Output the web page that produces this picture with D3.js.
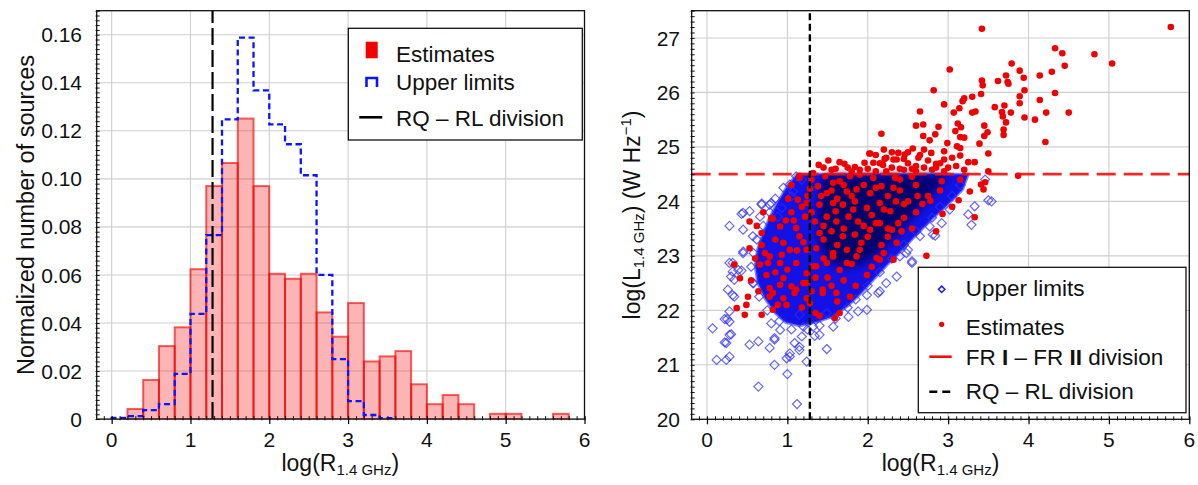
<!DOCTYPE html>
<html><head><meta charset="utf-8">
<script src="https://cdn.jsdelivr.net/npm/d3@7"></script>
<style>
body{margin:0;background:#fff}
svg{display:block}
text{font-family:"Liberation Sans",Arial,sans-serif;fill:#111}
</style>
</head><body>
<svg id="c" width="1198" height="485"></svg>
<script>
// ---------- DATA ----------
// Left panel: histogram bin edges of log(R_1.4GHz)
const binEdges = [0,0.2,0.4,0.6,0.8,1.0,1.2,1.4,1.6,1.8,2.0,2.2,2.4,2.6,2.8,3.0,3.2,3.4,3.6,3.8,4.0,4.2,4.4,4.6,4.8,5.0,5.2,5.4,5.6,5.8];
// Normalized counts, estimates (filled red bars)
const histEstimates = [0,0.0042,0.0163,0.0304,0.0382,0.0624,0.097,0.1066,0.1251,0.097,0.0605,0.0584,0.0605,0.0444,0.0343,0.0483,0.024,0.0261,0.0283,0.0145,0.0062,0.010,0.0062,0,0.0022,0.0022,0,0,0.0022];
// Normalized counts, upper limits (blue dashed step)
const histUpperLimits = [0.0005,0.0012,0.0037,0.0062,0.0188,0.0438,0.0766,0.1248,0.1588,0.1368,0.1227,0.1144,0.1015,0.060,0.025,0.0075,0.0017,0.0004];
const rqRlDivision = 1.28;      // log R
const frDivision = 24.5;        // log L
// tick labels
const xTicks = [0,1,2,3,4,5,6];
const xTickLabels = ["0","1","2","3","4","5","6"];
const yTicksL = [0,0.02,0.04,0.06,0.08,0.10,0.12,0.14,0.16];
const yTickLabelsL = ["0","0.02","0.04","0.06","0.08","0.10","0.12","0.14","0.16"];
const yTicksR = [20,21,22,23,24,25,26,27];
const yTickLabelsR = ["20","21","22","23","24","25","26","27"];

// Right panel: Estimates (red dots) [log R, log L]
const estimatePts = [
[3.42,27.17],[5.77,27.2],[4.33,26.81],[4.42,26.72],[4.82,26.70],[5.04,26.53],[4.45,26.49],[3.79,26.53],[3.02,26.42],[3.89,26.40],
[3.94,26.27],[4.29,26.38],[4.14,26.31],[3.72,26.31],[3.74,26.19],[3.75,26.16],[3.62,26.21],[3.42,26.22],[3.43,26.13],[2.82,26.04],
[3.95,26.04],[4.33,25.99],[3.89,25.93],[4.14,25.86],[3.89,25.80],[3.41,25.97],[3.30,25.92],[3.20,25.89],[3.18,25.84],[2.95,25.78],
[3.14,25.71],[3.07,25.63],[3.30,25.63],[3.34,25.65],[3.58,25.73],[3.70,25.76],[3.67,25.64],[3.68,25.56],[3.78,25.63],[3.72,25.45],
[3.95,25.54],[4.08,25.50],[4.22,25.63],[4.50,25.63],[2.65,25.65],[2.60,25.39],[2.69,25.41],[2.88,25.37],[3.12,25.43],[3.16,25.36],
[3.09,25.29],[3.45,25.39],[3.49,25.27],[3.45,25.20],[3.69,25.32],[3.69,25.22],[2.84,25.23],[2.69,25.20],[3.15,25.18],[3.20,25.17],
[2.99,25.07],[3.11,25.01],[3.15,24.98],[3.39,25.06],[4.21,25.09],[2.77,25.12],[2.56,24.97],[3.50,24.88],[3.15,24.84],[2.95,24.92],
[2.79,24.89],[3.25,24.72],[3.33,24.72],[2.95,24.77],[3.87,24.47],[2.85,24.69],[2.17,25.24],[2.38,24.89],[2.46,24.86],[2.63,24.80],
[3.50,24.55],
[2.02,24.88],[1.39,24.67],[1.51,24.75],[1.71,24.69],[1.84,24.63],[1.96,24.71],[2.07,24.71],[2.21,24.78],[2.32,24.77],[2.03,24.88],
[2.23,24.80],[2.19,24.67],[2.36,24.77],[1.32,24.52],[2.23,24.55],[1.6,24.6],[1.8,24.55],[2.0,24.6],[2.1,24.55],[2.45,24.58],
[2.55,24.6],[2.7,24.62],[2.8,24.58],[3.0,24.62],[2.9,24.7],[2.75,24.75],[2.65,24.85],[2.5,24.9],[2.2,24.95],[3.05,24.8],
[1.55,24.58],[2.4,24.6],[2.5,24.7],[2.6,24.65],
[1.45,24.62],[1.65,24.72],[1.75,24.62],[1.9,24.58],[2.15,24.7],[2.3,24.62],[2.6,24.55],[2.85,24.62],[2.95,24.55],[3.1,24.65],
[3.2,24.58],[2.45,24.78],[2.3,24.9],[2.7,24.95],[2.1,24.85],
[1.15,24.47],[1.13,24.03],[1.01,24.05],[0.82,23.68],[0.53,23.63],[0.68,23.42],
[1.15,24.43],[1.28,24.23],[1.47,24.46],[1.65,24.37],[1.78,24.46],[1.90,24.49],[2.07,24.43],[2.34,24.43],[1.57,24.34],[1.38,24.28],
[1.49,24.15],[1.74,24.18],[1.86,24.22],[2.03,24.15],[2.17,24.28],[2.32,24.25],[1.24,23.97],[1.40,23.94],[1.57,23.97],[1.69,23.94],
[1.84,24.0],[1.99,23.88],[2.15,23.97],[2.28,23.82],[1.22,23.72],[1.34,23.63],[1.49,23.72],[1.61,23.63],[1.76,23.72],[1.88,23.63],
[2.03,23.48],[2.15,23.60],[2.30,23.48],[0.91,23.54],[1.11,23.51],[1.15,23.36],[1.40,23.42],[1.55,23.45],[1.69,23.36],[1.84,23.39],
[1.92,23.24],[2.17,23.20],[0.95,23.24],[1.03,23.11],[1.24,23.11],[1.36,23.14],[1.57,23.05],[1.74,23.11],[1.86,22.99],[2.11,22.96],
[0.78,22.99],[0.66,22.84],[0.91,22.87],[1.11,22.87],[1.32,22.81],[1.49,22.87],[1.65,22.74],[0.53,23.14],[0.80,23.69],[0.74,22.65],
[0.95,22.59],[1.05,22.44],[1.24,22.50],[1.44,22.38],[1.61,22.32],[0.51,22.25],[0.34,22.84],[0.41,22.59],[0.82,22.32],
[0.37,22.04],[0.47,21.92],[0.68,21.92],[0.78,22.25],[0.82,22.01],[0.99,22.10],[1.09,22.32],[1.28,22.13],[1.44,22.32],[1.40,21.90],
[1.59,21.86],[1.65,21.95],[0.64,22.35],[0.91,22.47],[1.20,22.50],
[0.49,22.10],[0.68,23.20],[0.78,22.41],[0.76,22.87],[0.93,23.02],[0.95,22.22],[1.78,22.25],[1.62,22.16],[1.11,22.38],[1.24,22.22],
[1.99,22.65],[2.15,22.93],[2.36,23.24],[2.32,22.93],[1.90,23.11],[1.24,22.68],[1.36,22.81],[1.57,22.99],[1.74,22.87],
[3.27,24.18],[3.13,24.02],[3.33,23.71],[2.93,23.77],[2.73,23.0],[3.46,24.35],[3.41,24.31],[3.44,24.22],[2.78,24.01],[3.15,24.40],
[2.92,24.37],[2.6,24.3],[2.75,24.1],[2.5,24.0],[2.9,24.2],[3.05,23.9],[2.45,23.7],[2.6,23.8],[2.85,23.45],[2.4,24.4],[2.55,24.45],
[1.3,24.4],[1.42,24.1],[1.55,24.2],[1.62,24.05],[1.7,24.3],[1.8,24.1],[1.95,24.3],[2.1,24.25],[2.25,24.1],[2.4,24.2],
[2.45,23.95],[2.2,23.85],[2.05,23.75],[1.95,23.55],[1.7,23.5],[1.45,23.55],[1.3,23.8],[1.18,23.9],[1.05,23.8],[0.98,23.65],
[1.2,23.25],[1.45,23.3],[1.62,23.2],[2.0,23.35],[2.25,23.35],[2.42,23.45],[2.2,23.05],[1.8,22.85],[1.5,22.6],[1.7,22.55],
[1.85,22.45],[1.35,22.6],[1.0,22.75],[0.85,22.7],[0.72,23.05],[0.85,23.3],[1.08,23.65],[0.62,23.55],[0.7,23.8],[1.6,23.82],
[1.82,23.85],[2.35,24.0],[2.62,24.1],[2.68,23.95],[2.38,23.6],[2.55,23.5],[2.1,23.6],[1.25,24.1],[1.05,24.3],[1.12,23.1],
[1.45,22.95],[1.3,22.35],[1.55,22.45],[0.6,22.95],[0.55,22.55],[0.88,22.1],[1.18,22.05],[1.35,21.95],[2.05,22.8],[2.25,23.5]
];
// Right panel: Upper limits, individually visible diamonds [log R, log L]
const upperLimitPts = [
[0.07,21.67],[0.12,21.09],[0.24,21.09],[0.28,21.15],[0.24,21.40],[0.30,21.56],[0.22,21.84],[0.28,21.79],[0.28,21.98],[0.34,22.25],
[0.26,22.38],[0.34,22.56],[0.28,22.87],[0.32,22.71],[0.43,22.73],[0.45,23.05],[0.53,21.37],[0.64,21.43],[0.64,20.60],[0.84,21.0],
[0.99,21.12],[1.0,20.83],[1.12,20.28],[1.24,21.06],[1.03,21.21],[0.84,21.49],[0.78,21.31],[1.09,21.40],[1.15,21.33],[0.91,21.64],
[0.80,21.76],[1.49,21.29],[1.34,21.53],[1.18,21.52],[1.32,21.70],[1.20,21.70],[1.57,21.70],[1.76,21.88],[1.99,22.01],[2.15,22.35],
[2.23,22.50],[2.36,22.62],[2.55,22.90],[2.48,23.05],[1.15,21.92],[1.49,21.95],[1.03,21.15],[1.15,21.27],[0.84,21.46],[0.22,21.41],
[0.28,21.55],[0.25,21.84],[1.88,21.98],[1.99,22.28],[2.13,22.32],[1.40,21.55],
[0.28,23.55],[0.43,23.77],[0.53,23.82],[0.68,23.94],[0.78,23.94],[0.66,23.72],[0.45,23.48],[0.32,22.87],[0.30,22.62],[0.45,23.08],
[0.57,23.36],[0.93,23.88],[1.05,24.09],[1.11,24.46],[1.03,24.31],[0.88,23.72],[0.39,22.74],[0.57,22.50],[0.32,22.28],[0.45,23.79],
[0.68,23.96],[0.80,23.97],[1.07,24.18],[1.18,24.40],
[3.46,24.4],[3.54,24.0],[3.5,24.02],[3.33,23.91],[3.29,23.57],[3.25,23.76],[3.02,23.85],[2.77,23.54],[2.92,23.6],[2.81,23.39],
[2.65,23.36],[2.50,23.11],[2.55,22.87],[2.40,22.99],[2.84,23.37],
[3.15,24.3],[3.05,24.1],[2.9,23.9],[2.8,23.7],[2.6,23.45],[2.45,23.2],[2.3,22.95],[2.15,22.7],[2.0,22.45],[1.85,22.2],
[1.75,22.05],[0.95,24.25],[0.85,24.05],[0.78,23.8],[0.7,23.55],[0.62,23.3],[0.58,23.05],[0.55,22.8],[0.58,22.5],[0.65,22.25],
[0.75,22.0],[0.9,21.8],[1.05,21.65],[1.25,21.65],[1.4,21.72],[1.6,21.85]
];
// Outline of the saturated (overlapping) upper-limit cloud
const upperLimitCloud = [[1.12,24.5],[3.25,24.5],[3.18,24.22],[2.98,23.92],[2.78,23.65],[2.58,23.35],[2.42,23.1],[2.25,22.85],[2.08,22.58],[1.92,22.32],[1.75,22.08],[1.55,21.88],[1.35,21.78],[1.15,21.72],[0.98,21.78],[0.85,21.95],[0.72,22.22],[0.63,22.52],[0.6,22.82],[0.63,23.12],[0.7,23.42],[0.78,23.7],[0.88,23.98],[1.0,24.28]];
const upperLimitCore = [[1.45,24.48],[3.0,24.48],[2.8,24.12],[2.55,23.7],[2.3,23.3],[2.05,22.95],[1.8,22.78],[1.55,22.85],[1.4,23.2],[1.38,23.9]];

// ---------- SETUP ----------
const svg = d3.select("#c");
const defs = svg.append("defs");
defs.append("filter").attr("id","blur").attr("x","-20%").attr("y","-20%").attr("width","140%").attr("height","140%")
  .append("feGaussianBlur").attr("stdDeviation",5);

const xL = d3.scaleLinear([-0.19,6],[96.7,584.5]);
const yL = d3.scaleLinear([0,0.17],[419.1,10.7]);
const xR = d3.scaleLinear([-0.19,6],[691.7,1189.3]);
const yR = d3.scaleLinear([20,27.5],[419.3,10.7]);

function clip(id,x,y){
  defs.append("clipPath").attr("id",id).append("rect")
    .attr("x",x.range()[0]).attr("y",y.range()[1])
    .attr("width",x.range()[1]-x.range()[0]).attr("height",y.range()[0]-y.range()[1]);
}
clip("clipL",xL,yL); clip("clipR",xR,yR);

function grid(x,y,xs,ys){
  const g = svg.append("g").attr("stroke","#cfcfcf").attr("stroke-width",1.1);
  xs.forEach(v=>g.append("line").attr("x1",x(v)).attr("x2",x(v)).attr("y1",y.range()[0]).attr("y2",y.range()[1]));
  ys.forEach(v=>g.append("line").attr("y1",y(v)).attr("y2",y(v)).attr("x1",x.range()[0]).attr("x2",x.range()[1]));
}

function frame(x,y,xMinor,yMinor){
  const x0=x.range()[0], x1=x.range()[1], y0=y.range()[0], y1=y.range()[1];
  const gbm = svg.append("g").attr("transform",`translate(0,${y0})`)
    .call(d3.axisBottom(x).tickValues(xMinor).tickSize(-3).tickFormat(""));
  gbm.select(".domain").remove();
  gbm.selectAll("line").attr("y1",1.2).attr("stroke","#111").attr("stroke-width",1);
  const glm = svg.append("g").attr("transform",`translate(${x0},0)`)
    .call(d3.axisLeft(y).tickValues(yMinor).tickSize(-3).tickFormat(""));
  glm.select(".domain").remove();
  glm.selectAll("line").attr("x1",-1.2).attr("stroke","#111").attr("stroke-width",1);
  const gb = svg.append("g").attr("transform",`translate(0,${y0})`)
    .call(d3.axisBottom(x).tickValues(xTicks).tickSize(5).tickFormat(""));
  gb.select(".domain").remove();
  gb.selectAll("line").attr("y1",-2.5).attr("stroke","#111").attr("stroke-width",1.3);
  svg.append("rect").attr("x",x0).attr("y",y1).attr("width",x1-x0).attr("height",y0-y1)
    .attr("fill","none").attr("stroke","#111").attr("stroke-width",1.3);
}

function xTickText(x,y){
  const g = svg.append("g").attr("font-size",21).attr("text-anchor","middle");
  xTicks.forEach((v,i)=>g.append("text").attr("x",x(v)).attr("y",447).text(xTickLabels[i]));
}

// ---------- LEFT PANEL ----------
grid(xL,yL,xTicks,yTicksL);
const gL = svg.append("g").attr("clip-path","url(#clipL)");
histEstimates.forEach((v,i)=>{
  if(v<=0) return;
  gL.append("rect").attr("x",xL(binEdges[i])).attr("width",xL(binEdges[i+1])-xL(binEdges[i]))
    .attr("y",yL(v)).attr("height",yL(0)-yL(v))
    .attr("fill","rgba(244,0,0,0.29)").attr("stroke","rgba(240,0,0,0.62)").attr("stroke-width",2);
});
const stepPts = [[binEdges[0],0]];
histUpperLimits.forEach((v,i)=>{ stepPts.push([binEdges[i],v]); stepPts.push([binEdges[i+1],v]); });
stepPts.push([binEdges[histUpperLimits.length],0]);
gL.append("path").attr("d",d3.line().x(d=>xL(d[0])).y(d=>yL(d[1]))(stepPts))
  .attr("fill","none").attr("stroke","#0a14ff").attr("stroke-width",2.3).attr("stroke-dasharray","6,3.6");
gL.append("line").attr("x1",xL(rqRlDivision)).attr("x2",xL(rqRlDivision)).attr("y1",yL(0)).attr("y2",yL(0.17))
  .attr("stroke","#000").attr("stroke-width",2.2).attr("stroke-dasharray","17,5");

const xMinorL = d3.range(-1,61).map(i=>i/10).filter(v=>v>=-0.19&&v<=6);
const yMinorL = d3.range(0,86).map(i=>i*0.002);
frame(xL,yL,xMinorL,yMinorL);
xTickText(xL,yL);
const gyl = svg.append("g").attr("font-size",21).attr("text-anchor","end");
yTicksL.forEach((v,i)=>gyl.append("text").attr("x",82).attr("y",yL(v)).attr("dy","0.36em").text(yTickLabelsL[i]));

svg.append("text").attr("transform","translate(34,215) rotate(-90)").attr("text-anchor","middle")
  .attr("font-size",23.5).text("Normalized number of sources");
const xlabL = svg.append("text").attr("x",340.3).attr("y",471).attr("text-anchor","middle").attr("font-size",23);
xlabL.append("tspan").text("log(R");
xlabL.append("tspan").attr("font-size",15).attr("dy",4).text("1.4 GHz");
xlabL.append("tspan").attr("dy",-4).text(")");

const lgL = svg.append("g");
lgL.append("rect").attr("x",348.3).attr("y",28.3).attr("width",234).attr("height",111.7)
  .attr("fill","#fff").attr("stroke","#111").attr("stroke-width",1.3);
lgL.append("rect").attr("x",365.7).attr("y",41.7).attr("width",12).attr("height",16.6).attr("fill","#f20000");
lgL.append("path").attr("d","M366.5,87 L366.5,78 L377,78 L377,87").attr("fill","none").attr("stroke","#0a14ff").attr("stroke-width",2.6);
lgL.append("line").attr("x1",359.3).attr("x2",382.3).attr("y1",117.3).attr("y2",117.3).attr("stroke","#000").attr("stroke-width",2.6);
const lgLt = lgL.append("g").attr("font-size",22.5);
lgLt.append("text").attr("x",396).attr("y",61.5).text("Estimates");
lgLt.append("text").attr("x",396).attr("y",89.5).text("Upper limits");
lgLt.append("text").attr("x",396).attr("y",126).text("RQ \u2013 RL division");

// ---------- RIGHT PANEL ----------
grid(xR,yR,xTicks,yTicksR);
const gR = svg.append("g").attr("clip-path","url(#clipR)");
const poly = d3.line().x(d=>xR(d[0])).y(d=>yR(d[1])).curve(d3.curveLinearClosed);
gR.append("path").attr("d",poly(upperLimitCloud)).attr("fill","#1212e6").attr("stroke","#2a2aff").attr("stroke-width",3).attr("stroke-opacity",0.6);
gR.append("path").attr("d",poly(upperLimitCore)).attr("fill","#00006e").attr("filter","url(#blur)");
const diamond = d3.symbol().type(d3.symbolDiamond2).size(52);
gR.append("g").selectAll("path").data(upperLimitPts).join("path")
  .attr("transform",d=>`translate(${xR(d[0])},${yR(d[1])})`).attr("d",diamond)
  .attr("fill","none").attr("stroke","#2d2dff").attr("stroke-opacity",0.72).attr("stroke-width",1.2);
gR.append("g").selectAll("circle").data(estimatePts).join("circle")
  .attr("cx",d=>xR(d[0])).attr("cy",d=>yR(d[1])).attr("r",3.3).attr("fill","#f00000");
gR.append("line").attr("x1",xR(-0.19)).attr("x2",xR(6)).attr("y1",yR(frDivision)).attr("y2",yR(frDivision))
  .attr("stroke","#f01010").attr("stroke-width",2.6).attr("stroke-dasharray","19,8").attr("stroke-opacity",0.9);
gR.append("line").attr("x1",xR(rqRlDivision)).attr("x2",xR(rqRlDivision)).attr("y1",yR(20)).attr("y2",yR(27.5))
  .attr("stroke","#000").attr("stroke-width",2.4).attr("stroke-dasharray","7,3.5");

const xMinorR = xMinorL;
const yMinorR = d3.range(0,76).map(i=>20+i/10);
frame(xR,yR,xMinorR,yMinorR);
xTickText(xR,yR);
const gyr = svg.append("g").attr("font-size",21).attr("text-anchor","end");
yTicksR.forEach((v,i)=>gyr.append("text").attr("x",680).attr("y",yR(v)).attr("dy","0.36em").text(yTickLabelsR[i]));

const ylabR = svg.append("text").attr("transform","translate(640,215) rotate(-90)").attr("text-anchor","middle").attr("font-size",23);
ylabR.append("tspan").text("log(L");
ylabR.append("tspan").attr("font-size",15).attr("dy",4).text("1.4 GHz");
ylabR.append("tspan").attr("dy",-4).text(") (W Hz");
ylabR.append("tspan").attr("font-size",15).attr("dy",-9).text("\u22121");
ylabR.append("tspan").attr("dy",9).text(")");
const xlabR = svg.append("text").attr("x",940.5).attr("y",471).attr("text-anchor","middle").attr("font-size",23);
xlabR.append("tspan").text("log(R");
xlabR.append("tspan").attr("font-size",15).attr("dy",4).text("1.4 GHz");
xlabR.append("tspan").attr("dy",-4).text(")");

const lgR = svg.append("g");
lgR.append("rect").attr("x",918.3).attr("y",267.3).attr("width",267.7).attr("height",145.4)
  .attr("fill","#fff").attr("stroke","#111").attr("stroke-width",1.3);
lgR.append("path").attr("transform","translate(941.7,289.3)").attr("d",d3.symbol().type(d3.symbolDiamond2).size(26))
  .attr("fill","none").attr("stroke","#1a1aff").attr("stroke-width",1.5);
lgR.append("circle").attr("cx",941.7).attr("cy",324.3).attr("r",2.6).attr("fill","#f00000");
lgR.append("line").attr("x1",929.3).attr("x2",951.7).attr("y1",356.7).attr("y2",356.7).attr("stroke","#f01010").attr("stroke-width",2.6);
lgR.append("line").attr("x1",929.3).attr("x2",951.7).attr("y1",391.7).attr("y2",391.7).attr("stroke","#000").attr("stroke-width",2.6).attr("stroke-dasharray","8,5");
const lgRt = lgR.append("g").attr("font-size",22.5);
lgRt.append("text").attr("x",965.7).attr("y",295.5).text("Upper limits");
lgRt.append("text").attr("x",965.7).attr("y",334.5).text("Estimates");
const fr = lgRt.append("text").attr("x",965.7).attr("y",365);
fr.append("tspan").text("FR ");
fr.append("tspan").attr("font-weight","bold").text("I");
fr.append("tspan").text(" \u2013 FR ");
fr.append("tspan").attr("font-weight","bold").text("II");
fr.append("tspan").text(" division");
lgRt.append("text").attr("x",965.7).attr("y",398.5).text("RQ \u2013 RL division");
</script>
</body></html>
